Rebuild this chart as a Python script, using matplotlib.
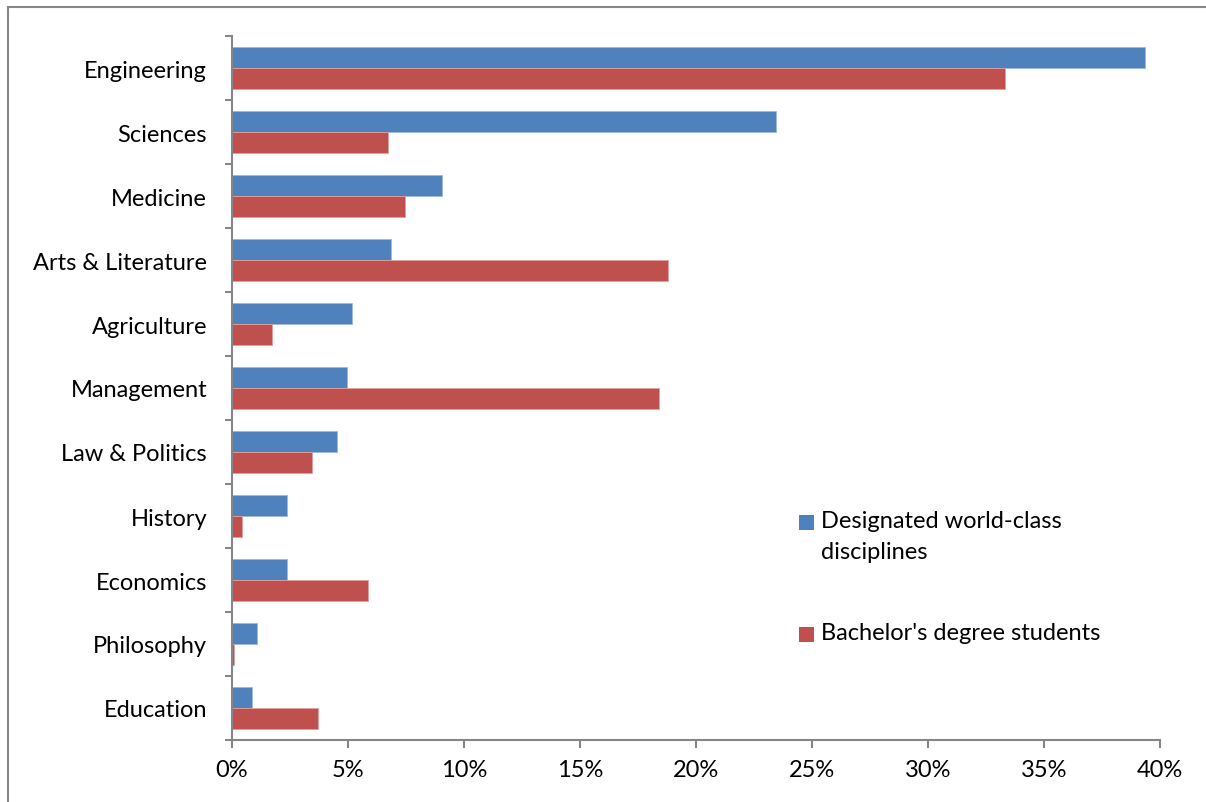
import matplotlib
matplotlib.use("Agg")
import matplotlib.pyplot as plt
import numpy as np
from matplotlib.patches import Rectangle
from matplotlib.lines import Line2D
from matplotlib.ticker import FuncFormatter

categories = ["Engineering", "Sciences", "Medicine", "Arts & Literature", "Agriculture",
              "Management", "Law & Politics", "History", "Economics", "Philosophy", "Education"]
world_class = [39.35, 23.45, 9.05, 6.85, 5.17, 4.96, 4.53, 2.37, 2.37, 1.08, 0.86]
bachelor = [33.3, 6.72, 7.47, 18.8, 1.72, 18.4, 3.45, 0.43, 5.86, 0.07, 3.7]
series_names = ["Designated world-class\ndisciplines", "Bachelor's degree students"]
xticks = [0, 5, 10, 15, 20, 25, 30, 35, 40]

BLUE = "#4F81BD"
RED = "#C0504D"
GRAY = "#868686"
FS = 17

plt.rcParams['font.family'] = ['Lato', 'DejaVu Sans']

W, H = 1206, 803
fig = plt.figure(figsize=(W / 100, H / 100), dpi=100)
ax = fig.add_axes([232 / W, 1 - 741 / H, 928 / W, 704 / H])

y = np.arange(len(categories))
h = 0.33
ax.barh(y - h / 2, world_class, height=h, color=BLUE, edgecolor="#9DB9DD", linewidth=0.6)
ax.barh(y + h / 2, bachelor, height=h, color=RED, edgecolor="#E0A09E", linewidth=0.6)

ax.set_ylim(len(categories) - 0.5, -0.5)
ax.set_xlim(0, 40)

ax.set_yticks(y)
ax.set_yticklabels(categories, fontsize=FS)
ax.set_yticks(np.arange(-0.5, len(categories), 1.0), minor=True)
ax.tick_params(axis='y', which='major', length=0, pad=18)
ax.tick_params(axis='y', which='minor', length=5, width=1.5, color=GRAY, direction='out')

ax.set_xticks(xticks)
ax.xaxis.set_major_formatter(FuncFormatter(lambda v, p: f"{int(v)}%"))
ax.tick_params(axis='x', which='major', length=6, width=1.5, color=GRAY, direction='out',
               pad=8, labelsize=FS)

for s in ["top", "right"]:
    ax.spines[s].set_visible(False)
for s in ["left", "bottom"]:
    ax.spines[s].set_color(GRAY)
    ax.spines[s].set_linewidth(1.5)


def fx(px):
    return px / W


def fy(py):
    return 1 - py / H


# Legend drawn to match reference layout (handle aligned with first text line)
legend_entries = [(BLUE, 523, series_names[0]), (RED, 635, series_names[1])]
for color, cy, label in legend_entries:
    fig.patches.append(Rectangle((fx(799), fy(cy + 7.5)), 15 / W, 15 / H,
                                 transform=fig.transFigure, facecolor=color,
                                 edgecolor='none'))
    fig.text(fx(821), fy(cy - 12), label, fontsize=FS, va='top', ha='left',
             linespacing=1.6)

# Outer chart border (left & top visible)
fig.add_artist(Line2D([fx(8), fx(8)], [fy(8), 0], transform=fig.transFigure,
                      color=GRAY, linewidth=1.5))
fig.add_artist(Line2D([fx(8), 1], [fy(8), fy(8)], transform=fig.transFigure,
                      color=GRAY, linewidth=1.5))

fig.savefig("out.png", dpi=100)
